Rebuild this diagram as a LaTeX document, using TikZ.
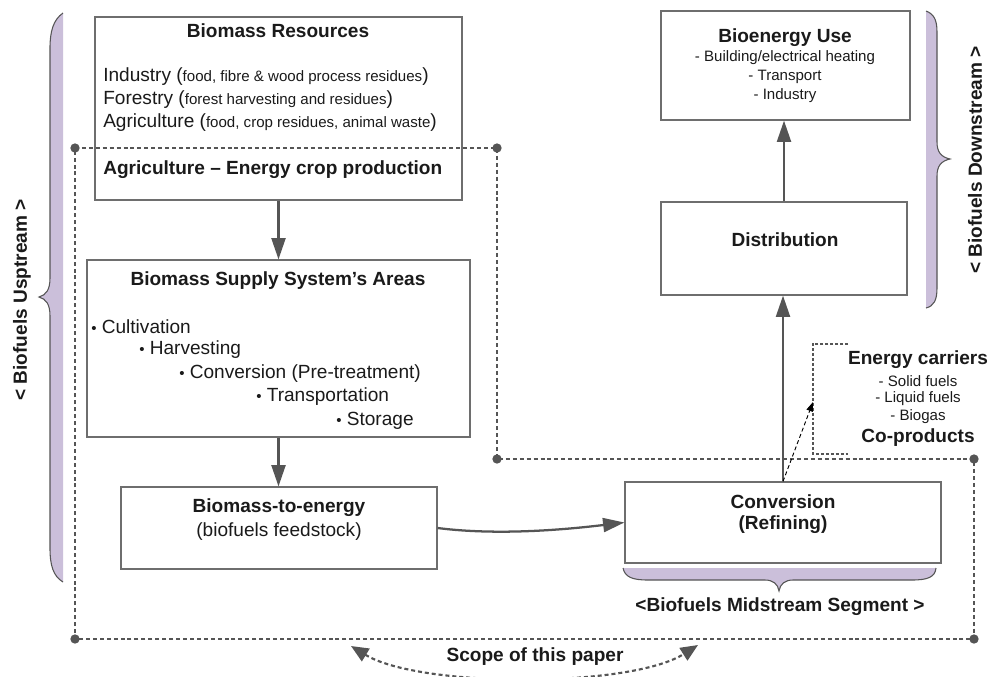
\documentclass[tikz,border=0pt]{standalone}
\usepackage{fontspec}
\setmainfont{Liberation Sans}
\usetikzlibrary{arrows.meta,fit}
\definecolor{lilac}{HTML}{CBBFDA}
\definecolor{lgray}{HTML}{555555}
\definecolor{bgray}{HTML}{6E6E6E}
\definecolor{txt}{HTML}{1A1A1A}
\newcommand{\bigf}{\fontsize{14.3}{17}\selectfont}
\newcommand{\smf}{\fontsize{11.3}{13}\selectfont}
\begin{document}
\begin{tikzpicture}[x=0.75pt,y=-0.75pt,
 blk/.style={draw=bgray, line width=0.9pt, inner sep=0pt},
 lbl/.style={inner sep=0pt, text=txt, font=\bigf\bfseries},
 txtn/.style={inner sep=0pt, text=txt, font=\bigf},
 smn/.style={inner sep=0pt, text=txt, font=\smf},
 arr/.style={draw=lgray, line width=1.7pt, -{Triangle[length=16pt,width=10.5pt]}},
 scopeline/.style={draw=lgray, line width=1.8pt, dash pattern=on 3pt off 2.2pt},
 pdot/.style={circle, fill=lgray, inner sep=0pt, minimum size=7pt},
 brc/.style={draw=lgray, line width=0.8pt},
 brcfill/.style={fill=lilac}
]
\useasboundingbox (0,0) rectangle (1002,676);

% ---------- braces ----------
% left (upstream)
\fill[brcfill] (63,13) .. controls (53,20) and (50,32) .. (50,48) -- (50,278)
  .. controls (50,290) and (46,295) .. (39,297) .. controls (46,299) and (50,304) .. (50,316)
  -- (50,548) .. controls (50,565) and (53,576) .. (63,582) -- cycle;
\draw[brc] (63,13) .. controls (53,20) and (50,32) .. (50,48) -- (50,278)
  .. controls (50,290) and (46,295) .. (39,297) .. controls (46,299) and (50,304) .. (50,316)
  -- (50,548) .. controls (50,565) and (53,576) .. (63,582);
% right (downstream)
\fill[brcfill] (926,11) .. controls (934,14) and (937,20) .. (937,32) -- (937,142)
  .. controls (937,152) and (941,157) .. (950,159) .. controls (941,161) and (937,166) .. (937,176)
  -- (937,288) .. controls (937,300) and (934,306) .. (926,308) -- cycle;
\draw[brc] (926,11) .. controls (934,14) and (937,20) .. (937,32) -- (937,142)
  .. controls (937,152) and (941,157) .. (950,159) .. controls (941,161) and (937,166) .. (937,176)
  -- (937,288) .. controls (937,300) and (934,306) .. (926,308);
% midstream
\fill[brcfill] (623,568) .. controls (625,577) and (632,580) .. (648,580) -- (765,580)
  .. controls (773,580) and (778,584) .. (779,591) .. controls (780,584) and (785,580) .. (793,580)
  -- (912,580) .. controls (928,580) and (935,577) .. (936,568) -- cycle;
\draw[brc] (623,568) .. controls (625,577) and (632,580) .. (648,580) -- (765,580)
  .. controls (773,580) and (778,584) .. (779,591) .. controls (780,584) and (785,580) .. (793,580)
  -- (912,580) .. controls (928,580) and (935,577) .. (936,568);

\node[lbl, rotate=90] (upl) at (22,300) {< Biofuels Usptream >};
\node[lbl, rotate=90] (dnl) at (975,160) {< Biofuels Downstream >};
\node[lbl] (midl) at (780,607) {<Biofuels Midstream Segment >};

% ---------- boxes ----------
\node[blk, fit={(95,17) (462,200)}] (res) {};
\node[blk, fit={(87,260) (470,437)}] (sup) {};
\node[blk, fit={(121,487) (437,569)}] (bte) {};
\node[blk, fit={(625,482) (941,563)}] (conv) {};
\node[blk, fit={(661,202) (907,295)}] (dist) {};
\node[blk, fit={(661,11) (910,120)}] (use) {};

% resources texts
\node[lbl] (rest) at (278,31) {Biomass Resources};
\node[txtn, anchor=west] (ind) at (103,77) {Industry ({\smf food, fibre \& wood process residues})};
\node[txtn, anchor=west] (for) at (103,100) {Forestry ({\smf forest harvesting and residues})};
\node[txtn, anchor=west] (agr) at (103,123) {Agriculture ({\smf food, crop residues, animal waste})};
\node[lbl, anchor=west] (agec) at (103,170) {Agriculture – Energy crop production};

% supply texts
\node[lbl] (supt) at (278,281) {Biomass Supply System’s Areas};
\node[txtn, anchor=west] (b1) at (91,327) {{\smf•} Cultivation};
\node[txtn, anchor=west] (b2) at (139,350) {{\smf•} Harvesting};
\node[txtn, anchor=west] (b3) at (179,374) {{\smf•} Conversion (Pre-treatment)};
\node[txtn, anchor=west] (b4) at (256,397) {{\smf•} Transportation};
\node[txtn, anchor=west] (b5) at (336,421) {{\smf•} Storage};

% biomass-to-energy
\node[lbl] (btet) at (279,508) {Biomass-to-energy};
\node[txtn] (btes) at (279,532) {(biofuels feedstock)};

% conversion
\node[lbl] (convt) at (783,502) {Conversion};
\node[lbl] (convs) at (783,525) {(Refining)};

% distribution
\node[lbl] (distt) at (785,240) {Distribution};

% bioenergy use
\node[lbl] (uset) at (785,38) {Bioenergy Use};
\node[smn] (u1) at (785,58) {- Building/electrical heating};
\node[smn] (u2) at (785,77) {- Transport};
\node[smn] (u3) at (785,96) {- Industry};

% energy carriers
\draw[lgray, line width=0.8pt, dash pattern=on 2.2pt off 1.5pt] (848,344) -- (813,344) -- (813,454) -- (848,454);
\coordinate (ecin) at (813,402);
\node[lbl] (ect) at (918,360) {Energy carriers};
\node[smn] (e1) at (918,381) {- Solid fuels};
\node[smn] (e2) at (918,399) {- Liquid fuels};
\node[smn] (e3) at (918,417) {- Biogas};
\node[lbl] (cop) at (918,438) {Co-products};

% ---------- scope of this paper ----------
\coordinate (s1) at (75,148);
\coordinate (s2) at (497,148);
\coordinate (s3) at (497,459);
\coordinate (s4) at (974,459);
\coordinate (s5) at (974,639);
\coordinate (s6) at (75,639);
\draw[scopeline] (s1) -- (s2) -- (s3) -- (s4) -- (s5) -- (s6) -- cycle;
\foreach \p in {s1,s2,s3,s4,s5,s6} \node[pdot] at (\p) {};

\coordinate (sa) at (351,646);
\coordinate (sb) at (698,645);
\draw[draw=lgray, line width=1.6pt, dash pattern=on 3pt off 2.2pt,
  {Triangle[length=13pt,width=11pt]}-{Triangle[length=13pt,width=11pt]}]
  (sa) .. controls (420,688) and (630,688) .. (sb);
\node[lbl] (scl) at (535,657) {Scope of this paper};

% ---------- arrows ----------
\draw[arr] (res.south) -- (sup.north);
\draw[arr] (sup.south) -- (sup.south |- bte.north);
\draw[arr] (bte.east) .. controls (500,536) and (570,529) .. (conv.west);
\draw[arr] (conv.north) -- (conv.north |- dist.south);
\draw[arr] (dist.north) -- (dist.north |- use.south);
\draw[black, line width=0.7pt, dash pattern=on 3pt off 2pt, -{Triangle[length=7pt,width=5pt]}] (conv.north) -- (ecin);
\end{tikzpicture}
\end{document}
